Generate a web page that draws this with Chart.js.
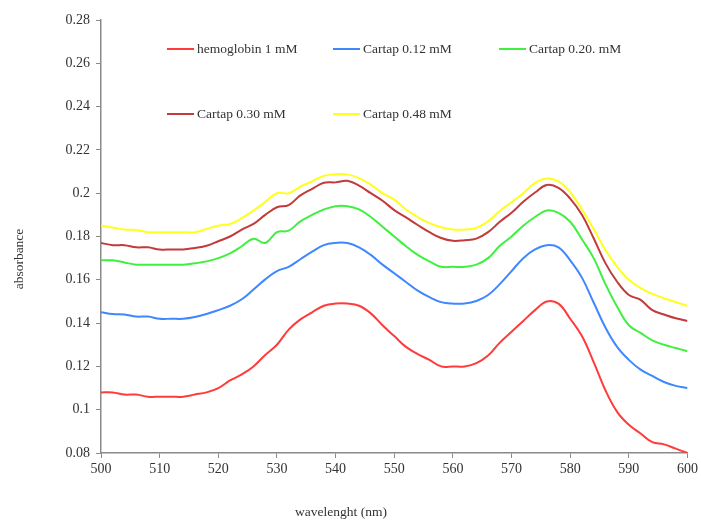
<!DOCTYPE html>
<html>
<head>
<meta charset="utf-8">
<script src="https://cdn.jsdelivr.net/npm/chart.js@4/dist/chart.umd.min.js"></script>
<style>
  html, body { margin: 0; padding: 0; background: #ffffff; }
  canvas { display: block; }
</style>
</head>
<body>
<canvas id="spectra" width="701" height="520"></canvas>
<script>
// Absorption spectra, 500-600 nm
const wavelengths = [500, 502, 504, 506, 508, 510, 512, 514, 516, 518,
                     520, 522, 524, 526, 528, 530, 532, 534, 536, 538,
                     540, 542, 544, 546, 548, 550, 552, 554, 556, 558,
                     560, 562, 564, 566, 568, 570, 572, 574, 576, 578,
                     580, 582, 584, 586, 588, 590, 592, 594, 596, 598, 600];

const hemoglobin = [0.108, 0.108, 0.107, 0.107, 0.106, 0.106, 0.106, 0.106, 0.107, 0.108,
                    0.110, 0.1135, 0.1163, 0.120, 0.1253, 0.130, 0.137, 0.1417, 0.145, 0.148,
                    0.149, 0.149, 0.148, 0.1445, 0.139, 0.134, 0.129, 0.1257, 0.123, 0.120,
                    0.120, 0.120, 0.1215, 0.125, 0.131, 0.136, 0.141, 0.146, 0.150, 0.149,
                    0.142, 0.134, 0.122, 0.109, 0.099, 0.093, 0.089, 0.085, 0.084, 0.082, 0.080];

const cartap012 = [0.145, 0.1442, 0.144, 0.143, 0.143, 0.142, 0.142, 0.142, 0.1428, 0.1442,
                   0.146, 0.148, 0.151, 0.1555, 0.1602, 0.164, 0.166, 0.1695, 0.173, 0.176,
                   0.177, 0.177, 0.175, 0.1715, 0.167, 0.163, 0.159, 0.155, 0.152, 0.1497,
                   0.149, 0.149, 0.1502, 0.153, 0.158, 0.164, 0.170, 0.174, 0.176, 0.175,
                   0.169, 0.161, 0.1495, 0.138, 0.129, 0.123, 0.1185, 0.1156, 0.1128, 0.111, 0.110];

const cartap020 = [0.169, 0.169, 0.168, 0.167, 0.167, 0.167, 0.167, 0.167, 0.1676, 0.1685,
                   0.170, 0.1722, 0.1755, 0.179, 0.177, 0.182, 0.1827, 0.187, 0.190, 0.1925,
                   0.194, 0.194, 0.1925, 0.189, 0.1845, 0.180, 0.1755, 0.1715, 0.1685, 0.166,
                   0.166, 0.166, 0.167, 0.170, 0.1757, 0.180, 0.185, 0.189, 0.192, 0.1909,
                   0.1868, 0.1787, 0.170, 0.158, 0.1476, 0.139, 0.1355, 0.132, 0.130, 0.1285, 0.127];

const cartap030 = [0.177, 0.176, 0.176, 0.175, 0.175, 0.174, 0.174, 0.174, 0.1747, 0.1757,
                   0.1778, 0.180, 0.1832, 0.1858, 0.190, 0.1935, 0.1945, 0.199, 0.202, 0.2048,
                   0.205, 0.2057, 0.2035, 0.200, 0.1965, 0.1922, 0.1888, 0.1853, 0.182, 0.1793,
                   0.178, 0.1783, 0.179, 0.182, 0.1868, 0.191, 0.196, 0.2003, 0.2038, 0.2025,
                   0.1975, 0.190, 0.1792, 0.1677, 0.1591, 0.153, 0.1507, 0.146, 0.144, 0.1422, 0.141];

const cartap048 = [0.185, 0.1842, 0.1832, 0.183, 0.182, 0.182, 0.182, 0.182, 0.182, 0.1835,
                   0.185, 0.1858, 0.1885, 0.192, 0.196, 0.200, 0.200, 0.203, 0.2055, 0.208,
                   0.2088, 0.2087, 0.207, 0.204, 0.200, 0.197, 0.1925, 0.189, 0.1862, 0.1843,
                   0.1832, 0.1832, 0.184, 0.187, 0.1918, 0.1958, 0.200, 0.2048, 0.2068, 0.2055,
                   0.2005, 0.1925, 0.1835, 0.1738, 0.166, 0.160, 0.1562, 0.1535, 0.1515, 0.1497, 0.148];

const seriesLabels = ['hemoglobin 1 mM', 'Cartap 0.12 mM', 'Cartap 0.20. mM', 'Cartap 0.30 mM', 'Cartap 0.48 mM'];
const seriesColors = ['#ff3b3b', '#3f87ff', '#3ff03f', '#c23a3a', '#ffff1e'];
const seriesValues = [hemoglobin, cartap012, cartap020, cartap030, cartap048];

const xTitle = 'wavelenght (nm)';
const yTitle = 'absorbance';

const serif = '"Liberation Serif", "Times New Roman", serif';
const axisGray = '#8a8a8a';
const textColor = '#333333';

const datasets = seriesValues.map((vals, i) => ({
  label: seriesLabels[i],
  data: wavelengths.map((w, j) => ({ x: w, y: vals[j] })),
  borderColor: seriesColors[i],
  backgroundColor: seriesColors[i],
  borderWidth: 2,
  pointRadius: 0,
  tension: 0.4,
  fill: false
}));

// Legend in two rows plus the axis titles, drawn over the plot
const overlay = {
  id: 'overlay',
  afterDraw(chart) {
    const ctx = chart.ctx;
    ctx.save();
    ctx.font = '13.5px ' + serif;
    ctx.fillStyle = textColor;
    ctx.textBaseline = 'middle';

    const colStarts = [167, 333, 499];
    const rowYs = [49, 114];
    const lineLen = 27;
    chart.data.datasets.forEach((ds, i) => {
      const x = colStarts[i % 3];
      const y = rowYs[Math.floor(i / 3)];
      ctx.strokeStyle = ds.borderColor;
      ctx.lineWidth = 2;
      ctx.beginPath();
      ctx.moveTo(x, y);
      ctx.lineTo(x + lineLen, y);
      ctx.stroke();
      ctx.textAlign = 'left';
      ctx.fillText(ds.label, x + lineLen + 3, y);
    });

    ctx.textAlign = 'center';
    ctx.fillText(xTitle, 341, 512);
    ctx.translate(19, 259);
    ctx.rotate(-Math.PI / 2);
    ctx.fillText(yTitle, 0, 0);
    ctx.restore();
  }
};

new Chart(document.getElementById('spectra'), {
  type: 'line',
  data: { datasets },
  options: {
    responsive: false,
    animation: false,
    devicePixelRatio: 1,
    layout: { padding: { left: 0, right: 12, top: 20, bottom: 0 } },
    plugins: {
      legend: { display: false },
      tooltip: { enabled: false }
    },
    scales: {
      x: {
        type: 'linear',
        min: 500,
        max: 600,
        afterFit(scale) { scale.height = 67; },
        ticks: {
          stepSize: 10,
          color: textColor,
          font: { family: serif, size: 14 },
          padding: 3,
          maxRotation: 0
        },
        grid: { drawOnChartArea: false, drawTicks: true, tickLength: 5, color: axisGray },
        border: { color: axisGray, width: 1.5 }
      },
      y: {
        min: 0.08,
        max: 0.28,
        afterFit(scale) { scale.width = 101; },
        ticks: {
          stepSize: 0.02,
          color: textColor,
          font: { family: serif, size: 14 },
          padding: 6,
          callback: (v) => String(parseFloat(Number(v).toFixed(2)))
        },
        grid: { drawOnChartArea: false, drawTicks: true, tickLength: 5, color: axisGray },
        border: { color: axisGray, width: 1.5 }
      }
    }
  },
  plugins: [overlay]
});
</script>
</body>
</html>
